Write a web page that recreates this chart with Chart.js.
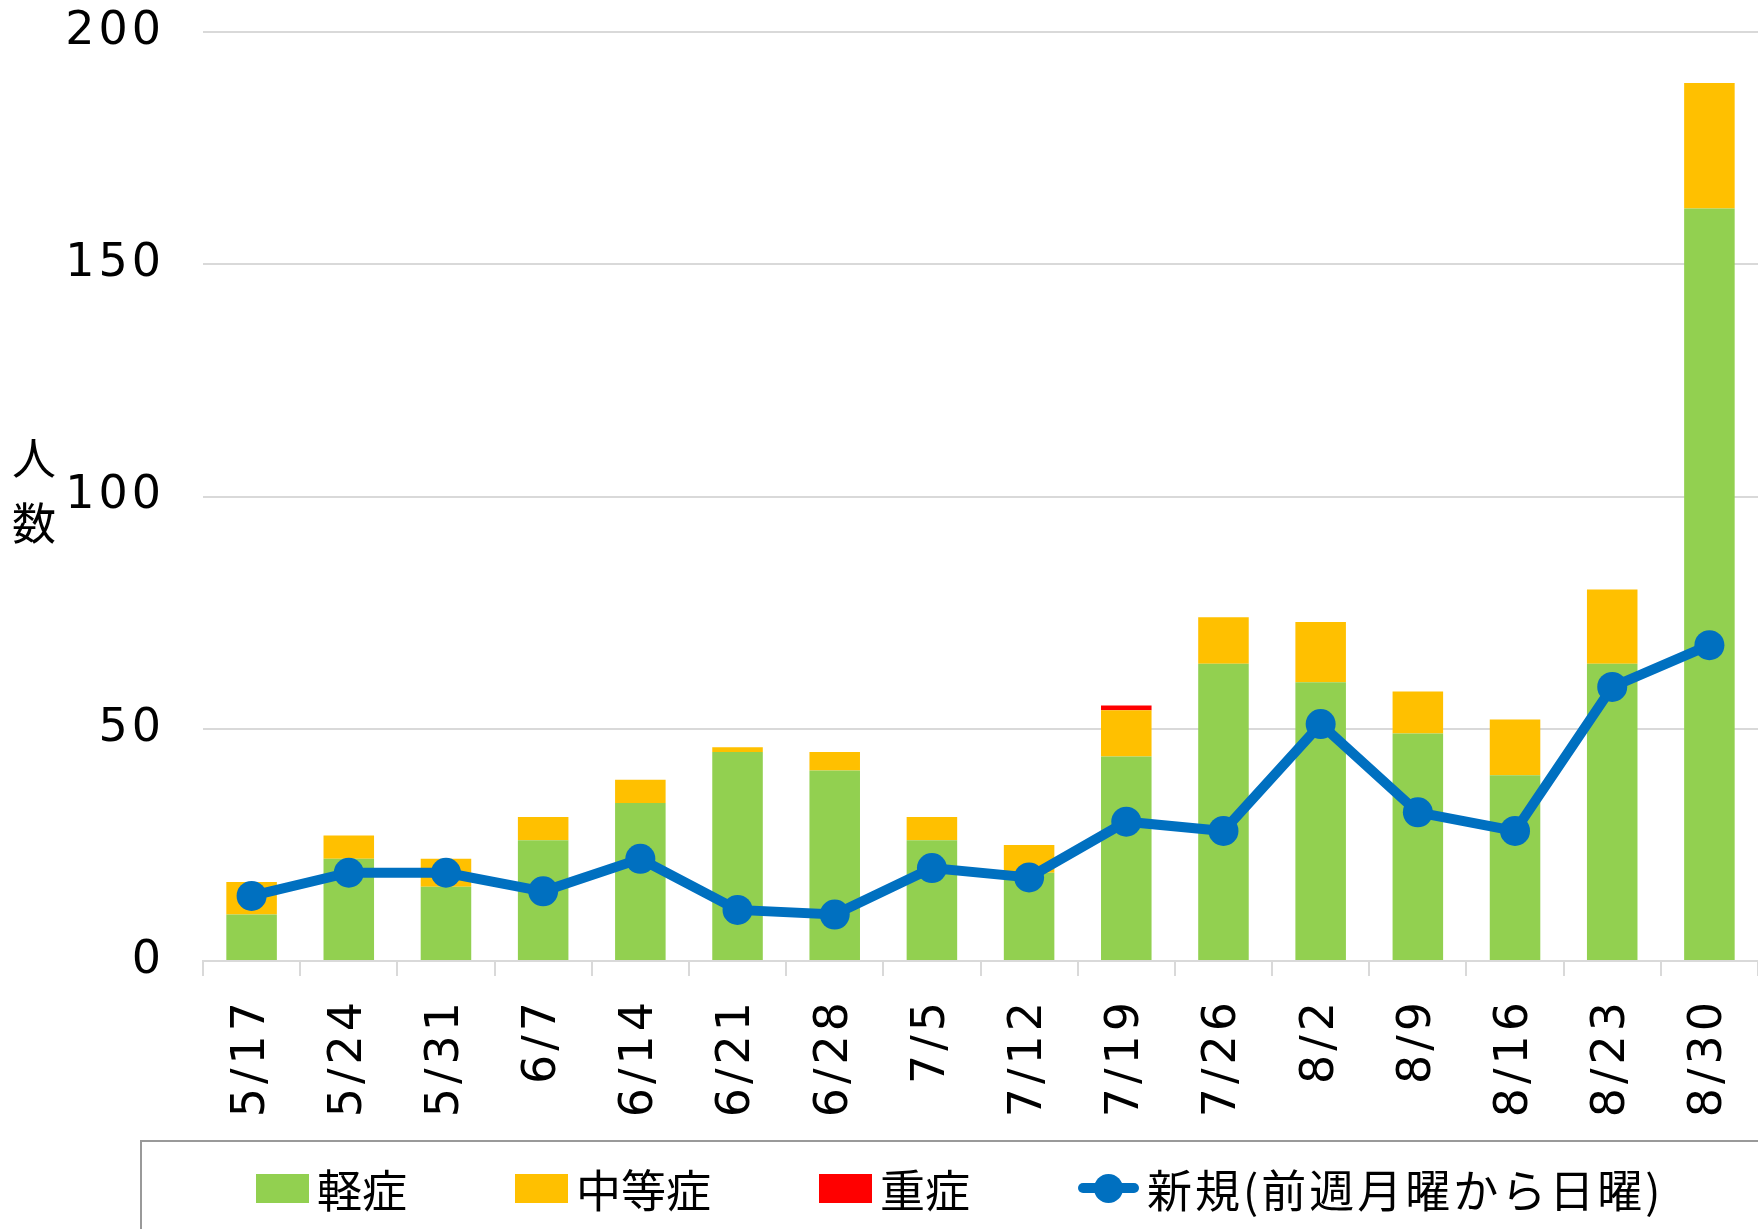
<!DOCTYPE html>
<html lang="ja">
<head>
<meta charset="utf-8">
<script src="https://cdn.jsdelivr.net/npm/chart.js@4"></script>
<style>
  html,body{margin:0;padding:0;background:#fff;overflow:hidden}
  #wrap{position:relative;width:1758px;height:1229px}
  #yTitle{position:absolute;left:12px;top:424px;font:44px "Noto Sans CJK JP",sans-serif;line-height:65px;color:#000}
  #legend{position:absolute;left:140px;top:1140px;width:1700px;height:200px;border:2px solid #999;box-sizing:border-box}
  #legend .row{position:absolute;left:114px;top:24px;display:flex;align-items:center;height:44px}
  #legend .item{display:flex;align-items:center;margin-right:108px;font:45px "Noto Sans CJK JP",sans-serif;color:#000;white-space:nowrap}
  #legend .item.wide{letter-spacing:3px}
  #legend .box{width:53px;height:29px;margin-right:8px}
  #legend .mk{position:relative;width:61px;height:30px;margin-right:8px}
  #legend .mk i{position:absolute;left:0;right:0;top:10px;height:10px;background:#0070c0;border-radius:5px}
  #legend .mk b{position:absolute;left:16px;top:1px;width:29px;height:29px;border-radius:50%;background:#0070c0}
</style>
</head>
<body>
<div id="wrap">
  <canvas id="c" width="1758" height="1229"></canvas>
  <div id="yTitle">人<br>数</div>
  <div id="legend"><div class="row" id="legendRow"></div></div>
</div>
<script>
// ── data ──────────────────────────────────────────────────────────────
const LABELS   = ['5/17','5/24','5/31','6/7','6/14','6/21','6/28','7/5','7/12','7/19','7/26','8/2','8/9','8/16','8/23','8/30'];
const MILD     = [10,22,16,26,34,45,41,26,19,44,64,60,49,40,64,162];   // 軽症
const MODERATE = [ 7, 5, 6, 5, 5, 1, 4, 5, 6,10,10,13, 9,12,16, 27];   // 中等症
const SEVERE   = [ 0, 0, 0, 0, 0, 0, 0, 0, 0, 1, 0, 0, 0, 0, 0,  0];   // 重症
const NEW_CASES= [14,19,19,15,22,11,10,20,18,30,28,51,32,28,59, 68];   // 新規
const Y_TICKS  = [0,50,100,150,200];

const GREEN='#92d050', ORANGE='#ffc000', RED='#ff0000', BLUE='#0070c0', GRID='#d9d9d9';
const TICK_FONT={family:'"DejaVu Sans", sans-serif',size:46};

// wider digit spacing, closer to the original rounded font
const spacing={id:'spacing',beforeDraw:c=>{c.ctx.letterSpacing='4px';}};

new Chart(document.getElementById('c'),{
  type:'bar',
  data:{labels:LABELS,datasets:[
    {type:'line',label:'新規(前週月曜から日曜)',data:NEW_CASES,borderColor:BLUE,backgroundColor:BLUE,
     borderWidth:10,pointRadius:15,pointBackgroundColor:BLUE,pointBorderWidth:0,tension:0,stack:'line',order:0},
    {label:'軽症',  data:MILD,    backgroundColor:GREEN, stack:'s',order:1,barPercentage:0.52,categoryPercentage:1},
    {label:'中等症',data:MODERATE,backgroundColor:ORANGE,stack:'s',order:1,barPercentage:0.52,categoryPercentage:1},
    {label:'重症',  data:SEVERE,  backgroundColor:RED,   stack:'s',order:1,barPercentage:0.52,categoryPercentage:1}
  ]},
  plugins:[spacing],
  options:{
    responsive:false,animation:false,
    layout:{autoPadding:false,padding:{top:32,right:0,bottom:0,left:0}},
    plugins:{legend:{display:false},tooltip:{enabled:false}},
    scales:{
      x:{stacked:true,offset:true,
        grid:{offset:true,drawOnChartArea:false,drawTicks:true,tickLength:15,color:GRID,lineWidth:2},
        border:{display:true,color:GRID,width:2},
        ticks:{color:'#000',font:TICK_FONT,minRotation:90,maxRotation:90,padding:22,autoSkip:false},
        afterFit:s=>{s.height=268;s.paddingLeft=0;s.paddingRight=0;}
      },
      y:{stacked:true,min:Y_TICKS[0],max:Y_TICKS[Y_TICKS.length-1],
        afterBuildTicks:s=>{s.ticks=Y_TICKS.map(v=>({value:v}));},
        grid:{color:GRID,lineWidth:2,drawTicks:false},
        border:{display:false},
        ticks:{color:'#000',font:TICK_FONT,padding:38},
        afterFit:s=>{s.width=203;s.paddingTop=0;s.paddingBottom=0;}
      }
    }
  }
});

// ── legend (HTML) ─────────────────────────────────────────────────────
const LEGEND=[['box',GREEN,'軽症'],['box',ORANGE,'中等症'],['box',RED,'重症'],['line',BLUE,'新規(前週月曜から日曜)']];
document.getElementById('legendRow').innerHTML=LEGEND.map(([k,c,t])=>
  k==='box'
   ?`<div class="item"><span class="box" style="background:${c}"></span>${t}</div>`
   :`<div class="item wide"><span class="mk"><i></i><b></b></span>${t}</div>`
).join('');
</script>
</body>
</html>
